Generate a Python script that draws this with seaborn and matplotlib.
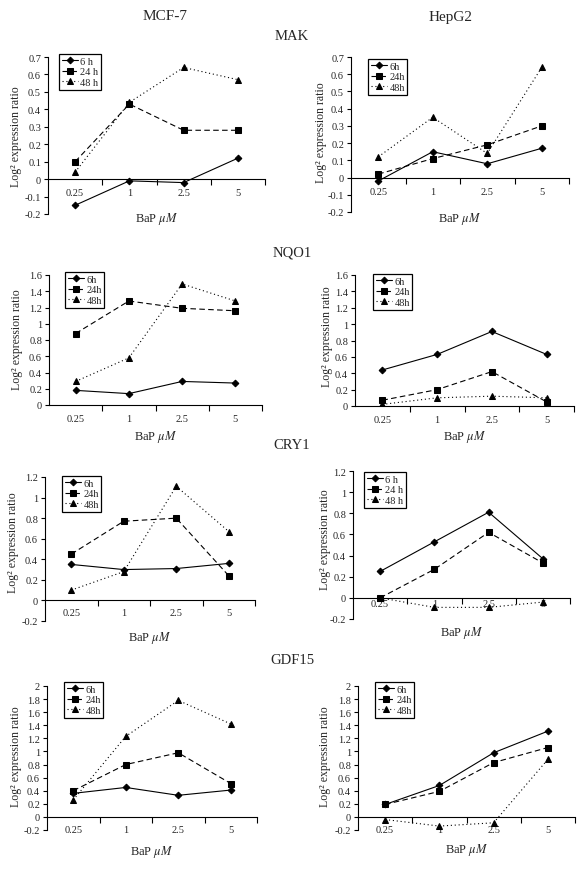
import numpy as np
import pandas as pd
import matplotlib
matplotlib.use('Agg')
import matplotlib.pyplot as plt
from matplotlib.ticker import FixedLocator
import seaborn as sns

sns.set_style('white')
plt.rcParams['font.family'] = ['Liberation Serif', 'DejaVu Serif']
plt.rcParams['mathtext.fontset'] = 'stix'

# ---------------- data ----------------
doses = ['0.25', '1', '2.5', '5']
cell_lines = ['MCF-7', 'HepG2']
genes = ['MAK', 'NQO1', 'CRY1', 'GDF15']

mak_mcf7_6h = [-0.15, -0.01, -0.02, 0.12]
mak_mcf7_24h = [0.10, 0.43, 0.28, 0.28]
mak_mcf7_48h = [0.04, 0.44, 0.64, 0.57]
mak_hepg2_6h = [-0.02, 0.15, 0.08, 0.17]
mak_hepg2_24h = [0.02, 0.11, 0.19, 0.30]
mak_hepg2_48h = [0.12, 0.35, 0.14, 0.64]

nqo1_mcf7_6h = [0.18, 0.14, 0.29, 0.27]
nqo1_mcf7_24h = [0.88, 1.28, 1.19, 1.16]
nqo1_mcf7_48h = [0.29, 0.58, 1.49, 1.28]
nqo1_hepg2_6h = [0.44, 0.63, 0.91, 0.63]
nqo1_hepg2_24h = [0.07, 0.20, 0.42, 0.05]
nqo1_hepg2_48h = [0.02, 0.10, 0.12, 0.10]

cry1_mcf7_6h = [0.35, 0.30, 0.31, 0.36]
cry1_mcf7_24h = [0.45, 0.77, 0.80, 0.24]
cry1_mcf7_48h = [0.10, 0.28, 1.11, 0.67]
cry1_hepg2_6h = [0.25, 0.53, 0.81, 0.37]
cry1_hepg2_24h = [0.00, 0.27, 0.62, 0.33]
cry1_hepg2_48h = [0.00, -0.09, -0.09, -0.04]

gdf15_mcf7_6h = [0.36, 0.45, 0.33, 0.41]
gdf15_mcf7_24h = [0.40, 0.80, 0.98, 0.51]
gdf15_mcf7_48h = [0.26, 1.23, 1.78, 1.42]
gdf15_hepg2_6h = [0.19, 0.48, 0.98, 1.31]
gdf15_hepg2_24h = [0.19, 0.39, 0.83, 1.06]
gdf15_hepg2_48h = [-0.04, -0.14, -0.09, 0.88]

labels_spaced = ['6 h', '24 h', '48 h']
labels_tight = ['6h', '24h', '48h']

# ---------------- layout ----------------
W, H = 584, 870
fig = plt.figure(figsize=(W / 100, H / 100), dpi=100)


def rect(l, r, t, b):
    return [l / W, 1 - b / H, (r - l) / W, (b - t) / H]


panels = [
    # series, labels, (l, r, t, b), ylim, ystep, legend (x, y), ylabel (x, y), xlabel y, tick pad
    ([mak_mcf7_6h, mak_mcf7_24h, mak_mcf7_48h], labels_spaced, (48, 265, 58, 215), (-0.2, 0.7), 0.1,
     (59, 55), (16, 137), 219, 6.5),
    ([mak_hepg2_6h, mak_hepg2_24h, mak_hepg2_48h], labels_tight, (351, 569, 58, 213), (-0.2, 0.7), 0.1,
     (368, 60), (321, 133), 219, 6.5),
    ([nqo1_mcf7_6h, nqo1_mcf7_24h, nqo1_mcf7_48h], labels_tight, (49, 262, 276, 406), (0, 1.6), 0.2,
     (65, 273), (17, 340), 437, 6.5),
    ([nqo1_hepg2_6h, nqo1_hepg2_24h, nqo1_hepg2_48h], labels_tight, (355, 574, 276, 407), (0, 1.6), 0.2,
     (373, 275), (327, 337), 437, 6.5),
    ([cry1_mcf7_6h, cry1_mcf7_24h, cry1_mcf7_48h], labels_tight, (45, 255, 478, 622), (-0.2, 1.2), 0.2,
     (62, 477), (13, 543), 638, 5.5),
    ([cry1_hepg2_6h, cry1_hepg2_24h, cry1_hepg2_48h], labels_spaced, (353, 570, 472, 620), (-0.2, 1.2), 0.2,
     (364, 473), (325, 540), 633, 0.5),
    ([gdf15_mcf7_6h, gdf15_mcf7_24h, gdf15_mcf7_48h], labels_tight, (47, 257, 687, 831), (-0.2, 2.0), 0.2,
     (64, 683), (16, 757), 852, 5.5),
    ([gdf15_hepg2_6h, gdf15_hepg2_24h, gdf15_hepg2_48h], labels_tight, (358, 575, 687, 831), (-0.2, 2.0), 0.2,
     (375, 683), (325, 757), 850, 5.5),
]

styles = [
    dict(linestyle='-', marker='D', markersize=3.4),
    dict(linestyle=(0, (5, 3)), marker='s', markersize=3.8),
    dict(linestyle=(0, (1, 2.5)), marker='^', markersize=4.4),
]

for series, labs, (l, r, t, b), ylim, ystep, (lgx, lgy), (ylx, yly), xly, tpad in panels:
    ax = fig.add_axes(rect(l, r, t, b))
    for vals, lab, st in zip(series, labs, styles):
        df = pd.DataFrame({'dose': doses, 'value': vals})
        sns.lineplot(data=df, x='dose', y='value', ax=ax, color='black', linewidth=0.8,
                     markeredgecolor='black', markerfacecolor='black', sort=False,
                     label=lab, **st)
    ax.set_xlim(-0.5, 3.5)
    ax.set_ylim(*ylim)
    yt = np.round(np.arange(ylim[0], ylim[1] + ystep / 2, ystep), 1)
    ax.set_yticks(yt)
    ax.set_yticklabels(['%g' % v for v in yt])
    ax.set_xticks(range(len(doses)))
    ax.set_xticklabels(doses)
    ax.xaxis.set_minor_locator(FixedLocator([0.5, 1.5, 2.5, 3.5]))
    ax.tick_params(axis='x', which='major', length=0, pad=tpad, labelsize=7.5)
    ax.tick_params(axis='x', which='minor', length=4, width=0.8, direction='out', color='black', bottom=True)
    ax.tick_params(axis='y', length=3, width=0.8, direction='out', color='black', left=True,
                   labelsize=7.5, pad=2)
    ax.spines['bottom'].set_position(('data', 0))
    for s in ['top', 'right']:
        ax.spines[s].set_visible(False)
    for s in ['left', 'bottom']:
        ax.spines[s].set_color('black')
        ax.spines[s].set_linewidth(0.8)
    ax.set_xlabel('')
    ax.set_ylabel('')
    ax.grid(False)
    ax.set_facecolor('none')
    leg = ax.legend(loc='upper left', bbox_to_anchor=(lgx / W, 1 - lgy / H), bbox_transform=fig.transFigure,
                    frameon=True, fancybox=False, edgecolor='black', framealpha=1, fontsize=7.5,
                    handlelength=1.6, handletextpad=0.2, labelspacing=0.12, borderpad=0.25,
                    borderaxespad=0, numpoints=1)
    leg.get_frame().set_linewidth(0.9)
    fig.text(ylx / W, 1 - yly / H, 'Log² expression ratio', rotation=90, ha='center', va='center',
             fontsize=8.5)
    fig.text((l + r) / 2 / W, 1 - xly / H, r'BaP $\mu M$', ha='center', va='center', fontsize=9)

fig.text(165 / W, 1 - 17 / H, cell_lines[0], ha='center', va='center', fontsize=11)
fig.text(451 / W, 1 - 17 / H, cell_lines[1], ha='center', va='center', fontsize=11)
for g, gy in zip(genes, [37, 253, 446, 661]):
    fig.text(292 / W, 1 - gy / H, g, ha='center', va='center', fontsize=10.5)

fig.savefig('out.png', dpi=100)
